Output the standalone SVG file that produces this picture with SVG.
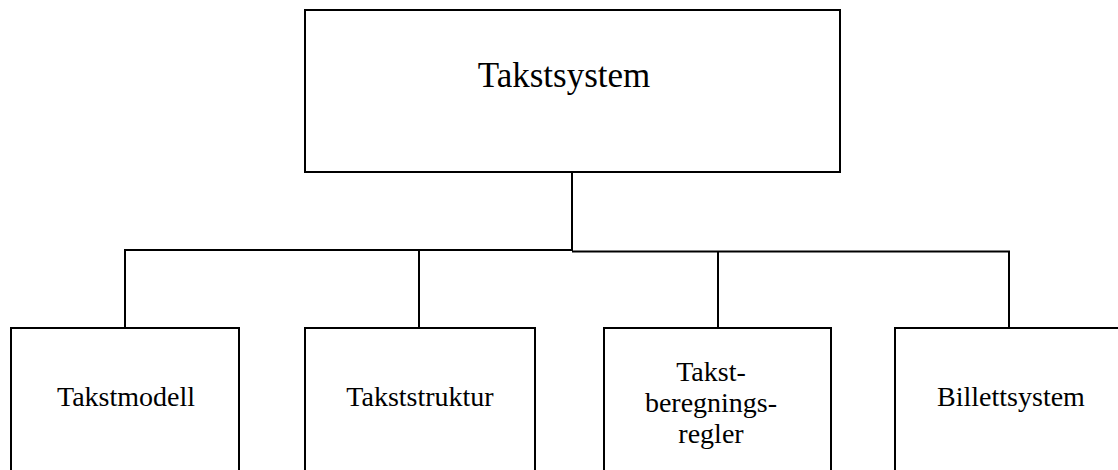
<svg xmlns="http://www.w3.org/2000/svg" width="1118" height="470" viewBox="0 0 1118 470">
<style>
.box{fill:#fff;stroke:#000;stroke-width:2}
.ln{fill:none;stroke:#000;stroke-width:2}
text{font-family:'Liberation Serif',serif;fill:#000;text-anchor:middle}
.tl{font-size:35px}
.ts{font-size:28px}
</style>
<rect width="1118" height="470" fill="#fff"/>
<g id="connectors">
<path class="ln" d="M572 172 V250 H125 V328"/>
<path class="ln" d="M419 250 V328"/>
<path class="ln" d="M572 251.5 H1009 V328"/>
<path class="ln" d="M718 251.5 V328"/>
</g>
<g id="takstsystem">
<rect class="box" x="305" y="10" width="535" height="162"/>
<text class="tl" font-family="Liberation Serif" x="564" y="87">Takstsystem</text>
</g>
<g id="takstmodell">
<rect class="box" x="11" y="328" width="228" height="160"/>
<text class="ts" font-family="Liberation Serif" x="126" y="406">Takstmodell</text>
</g>
<g id="takststruktur">
<rect class="box" x="305" y="328" width="230" height="160"/>
<text class="ts" font-family="Liberation Serif" x="420" y="406">Takststruktur</text>
</g>
<g id="takstberegningsregler">
<rect class="box" x="604" y="328" width="227" height="160"/>
<text class="ts" font-family="Liberation Serif" x="711" y="381">Takst-</text>
<text class="ts" font-family="Liberation Serif" x="711" y="412">beregnings-</text>
<text class="ts" font-family="Liberation Serif" x="711" y="443">regler</text>
</g>
<g id="billettsystem">
<rect class="box" x="895" y="328" width="228" height="160"/>
<text class="ts" font-family="Liberation Serif" x="1011" y="406">Billettsystem</text>
</g>
</svg>
